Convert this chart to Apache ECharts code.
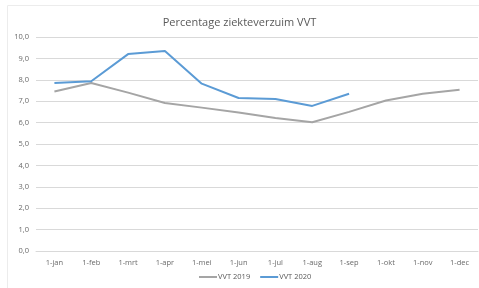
<!DOCTYPE html>
<html>
<head>
<meta charset="utf-8">
<script src="https://cdn.jsdelivr.net/npm/echarts@6/dist/echarts.min.js"></script>
<style>
    html, body { margin: 0; padding: 0; background: #fff; }
    #chart { width: 479px; height: 288px; }
</style>
</head>
<body>
<div id="chart"></div>
<script>
// maanden op de x-as
const months = ['1-jan', '1-feb', '1-mrt', '1-apr', '1-mei', '1-jun', '1-jul', '1-aug', '1-sep', '1-okt', '1-nov', '1-dec']
// verzuimpercentages
const vvt2019 = [7.45, 7.85, 7.4, 6.92, 6.7, 6.47, 6.22, 6.02, 6.5, 7.03, 7.35, 7.53]
const vvt2020 = [7.85, 7.93, 9.2, 9.35, 7.82, 7.15, 7.1, 6.78, 7.35]

const chart = echarts.init(document.getElementById('chart'))
chart.setOption({
    animation: false,
    title: {
        text: 'Percentage ziekteverzuim VVT',
        left: 'center',
        top: 12,
        textStyle: {
            fontFamily: 'Open Sans',
            fontSize: 11,
            fontWeight: 'normal',
            color: '#595959',
        },
    },
    graphic: [{
        type: 'rect',
        shape: { x: 7.5, y: 5.5, width: 480, height: 290 },
        style: { fill: 'none', stroke: '#ececec', lineWidth: 1 },
    }],
    legend: {
        bottom: 2,
        left: 194,
        itemWidth: 18,
        itemHeight: 2,
        itemGap: 10,
        icon: 'rect',
        textStyle: { fontFamily: 'Open Sans', fontSize: 7.5, color: '#595959', padding: [0, 0, 0, -4] },
        data: ['VVT 2019', 'VVT 2020'],
    },
    grid: {
        top: 37,
        left: 36,
        right: 1,
        bottom: 37,
    },
    xAxis: {
        type: 'category',
        data: months,
        boundaryGap: true,
        axisLine: { lineStyle: { color: '#d9d9d9' } },
        axisTick: { show: false },
        axisLabel: {
            fontFamily: 'Open Sans',
            fontSize: 7.5,
            color: '#6a6a6a',
            margin: 8,
            interval: 0,
        },
    },
    yAxis: {
        type: 'value',
        min: 0,
        max: 10,
        interval: 1,
        axisLine: { show: false },
        axisTick: { show: false },
        splitLine: { lineStyle: { color: '#d9d9d9' } },
        axisLabel: {
            fontFamily: 'Open Sans',
            fontSize: 7.5,
            color: '#6a6a6a',
            margin: 7,
            formatter: (v) => v.toFixed(1).replace('.', ','),
        },
    },
    series: [
        {
            name: 'VVT 2019',
            type: 'line',
            data: vvt2019,
            symbol: 'none',
            color: '#A5A5A5',
            lineStyle: { width: 2, color: '#A5A5A5' },
        },
        {
            name: 'VVT 2020',
            type: 'line',
            data: vvt2020,
            symbol: 'none',
            color: '#5B9BD5',
            lineStyle: { width: 2, color: '#5B9BD5' },
        },
    ],
})
</script>
</body>
</html>
